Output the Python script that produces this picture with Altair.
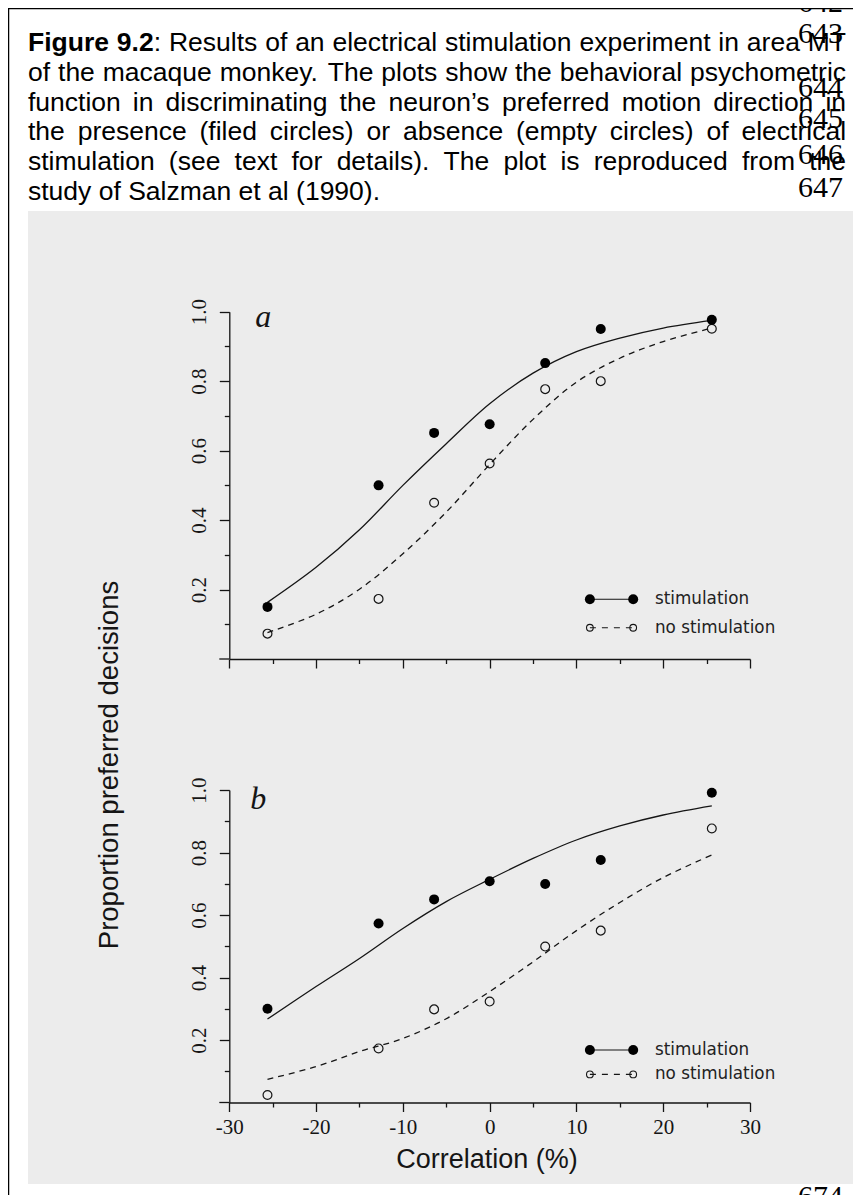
import altair as alt
import pandas as pd

# ---------------- data ----------------
coherence = [-25.6, -12.8, -6.4, 0.0, 6.4, 12.8, 25.6]
a_stim = [0.150, 0.500, 0.651, 0.676, 0.852, 0.950, 0.977]
a_nostim = [0.073, 0.173, 0.450, 0.563, 0.777, 0.800, 0.951]
b_stim = [0.300, 0.573, 0.650, 0.708, 0.699, 0.776, 0.991]
b_nostim = [0.024, 0.173, 0.298, 0.323, 0.499, 0.550, 0.877]

fit_x = [-25.6, -20.0, -15.0, -10.0, -5.0, 0.0, 5.0, 10.0, 15.0, 20.0, 25.6]
a_stim_fit = [0.163, 0.264, 0.372, 0.500, 0.620, 0.735, 0.823, 0.885, 0.924, 0.953, 0.975]
a_nostim_fit = [0.076, 0.129, 0.201, 0.303, 0.423, 0.560, 0.690, 0.797, 0.866, 0.914, 0.953]
b_stim_fit = [0.267, 0.371, 0.461, 0.557, 0.643, 0.714, 0.781, 0.840, 0.885, 0.920, 0.949]
b_nostim_fit = [0.074, 0.115, 0.163, 0.205, 0.268, 0.355, 0.450, 0.550, 0.640, 0.720, 0.792]

x_tick_values = [-30, -25, -20, -15, -10, -5, 0, 5, 10, 15, 20, 25, 30]
y_tick_values = [0.1, 0.2, 0.3, 0.4, 0.5, 0.6, 0.7, 0.8, 0.9, 1.0]

legend_labels = ["stimulation", "no stimulation"]
panel_names = ["a", "b"]
x_title = "Correlation (%)"
y_title = "Proportion preferred decisions"

caption_bold = "Figure 9.2"
caption_lines = [
    "Figure 9.2: Results of an electrical stimulation experiment in area MT",
    "of the macaque monkey. The plots show the behavioral psychometric",
    "function in discriminating the neuron\u2019s preferred motion direction in",
    "the presence (filed circles) or absence (empty circles) of electrical",
    "stimulation (see text for details). The plot is reproduced from the",
    "study of Salzman et al (1990).",
]
line_numbers = ["642", "643", "644", "645", "646", "647"]
bottom_line_number = "674"

# ---------------- layout (page pixels) ----------------
W, H = 845, 1187
M = 8


def P(v):
    return v - M


INK = "#151515"
PAPER_GRAY = "#ececec"
X_RNG = [P(229.3), P(750.0)]
YA_RNG = [P(659.0), P(311.7)]
YB_RNG = [P(1102.5), P(790.0)]

CAP_FS = 26.5
CAP_LEFT, CAP_RIGHT = 28.0, 846.0
CAP_BASE0, CAP_STEP = 51.0, 29.8
LN_BASELINES = [12, 43, 97, 128, 164, 197]

AR = {" ": 278, "!": 278, "(": 333, ")": 333, ".": 278, ",": 278, ":": 278,
      "\u2019": 222, "%": 889, "-": 333}
for ch in "0123456789":
    AR[ch] = 556
AR.update(dict(zip("abcdefghijklmnopqrstuvwxyz",
                   [556, 556, 500, 556, 556, 278, 556, 556, 222, 222, 500, 222, 833,
                    556, 556, 556, 556, 333, 500, 278, 556, 500, 722, 500, 500, 500])))
AR.update(dict(zip("ABCDEFGHIJKLMNOPQRSTUVWXYZ",
                   [667, 667, 722, 722, 667, 611, 778, 722, 278, 500, 667, 556, 833,
                    722, 778, 667, 778, 722, 667, 611, 722, 667, 944, 667, 667, 611])))
ARB = dict(AR)
ARB.update({"g": 611, "u": 611, "r": 389, "i": 278, "F": 611})


def text_w(s, bold=False):
    tab = ARB if bold else AR
    return sum(tab.get(c, 556) for c in s) / 1000.0 * CAP_FS


# caption word positions (justified like the document)
cap_rows = []
for li, line in enumerate(caption_lines):
    words = []
    pos = 0
    for w in line.split(" "):
        segs = []
        for k, ch in enumerate(w):
            b = (li == 0 and pos + k < len(caption_bold))
            if segs and segs[-1][1] == b:
                segs[-1][0] += ch
            else:
                segs.append([ch, b])
        pos += len(w) + 1
        words.append(segs)
    widths = [sum(text_w(s, b) for s, b in segs) for segs in words]
    if li < len(caption_lines) - 1 and len(words) > 1:
        gap = (CAP_RIGHT - CAP_LEFT - sum(widths)) / (len(words) - 1)
    else:
        gap = text_w(" ")
    x = CAP_LEFT
    for segs, wd in zip(words, widths):
        sx = x
        for s, b in segs:
            cap_rows.append({"x": P(sx), "row": li, "t": s, "bold": b})
            sx += text_w(s, b)
        x += wd + gap
cap_df = pd.DataFrame(cap_rows)

pix_x = alt.Scale(domain=[0, W], range=[0, W], nice=False, zero=False)
pix_y = alt.Scale(domain=[0, H], range=[0, H], nice=False, zero=False)
cap_y = alt.Scale(domain=[0, len(caption_lines) - 1],
                  range=[P(CAP_BASE0), P(CAP_BASE0 + CAP_STEP * (len(caption_lines) - 1))],
                  nice=False, zero=False)
one = pd.DataFrame({"k": [0]})

layers = []

# bottom line number (partly hidden by the scanned figure)
layers.append(alt.Chart(one).mark_text(
    text=bottom_line_number, font="Liberation Serif", fontSize=30, align="right",
    baseline="alphabetic", color="black").encode(x=alt.value(P(843)), y=alt.value(P(1206))))

# scanned figure background
layers.append(alt.Chart(one).mark_rect(color=PAPER_GRAY).encode(
    x=alt.value(P(28)), x2=alt.value(W), y=alt.value(P(211)), y2=alt.value(P(1184))))

# page frame
layers.append(alt.Chart(one).mark_rule(color="black", strokeWidth=2.5).encode(
    x=alt.value(0), x2=alt.value(W), y=alt.value(0)))
layers.append(alt.Chart(one).mark_rule(color="black", strokeWidth=2.5).encode(
    x=alt.value(0), y=alt.value(0), y2=alt.value(H)))

# caption
for bold in (False, True):
    layers.append(alt.Chart(cap_df).transform_filter(
        alt.datum.bold == bold).mark_text(
        font="Liberation Sans", fontSize=CAP_FS, fontWeight="bold" if bold else "normal",
        align="left", baseline="alphabetic", color="black").encode(
        x=alt.X("x:Q", scale=pix_x, axis=None),
        y=alt.Y("row:Q", scale=cap_y, axis=None),
        text="t:N"))

# line numbers
ln_df = pd.DataFrame({"n": line_numbers, "yy": [P(v) for v in LN_BASELINES]})
layers.append(alt.Chart(ln_df).mark_text(
    font="Liberation Serif", fontSize=30, align="right", baseline="alphabetic",
    color="black").encode(
    x=alt.value(P(843)),
    y=alt.Y("yy:Q", scale=pix_y, axis=None),
    text="n:N"))


def panel(stim, nostim, stim_fit, nostim_fit, y_rng, show_x_labels, name, name_xy,
          legend_y):
    xs = alt.Scale(domain=[-30, 30], range=X_RNG, nice=False, zero=False)
    ys = alt.Scale(domain=[0, 1], range=y_rng, nice=False, zero=False)
    out = []

    x_axis = alt.Axis(
        values=x_tick_values, orient="bottom", offset=y_rng[0] - H, title=None,
        grid=False, domainColor=INK, domainWidth=1.3, tickColor=INK, tickWidth=1.3,
        tickSize={"condition": {"test": "datum.value % 10 == 0", "value": 9}, "value": 4.5},
        labels=show_x_labels,
        labelExpr="datum.value % 10 == 0 ? '' + datum.value : ''",
        labelFont="Liberation Serif", labelFontSize=21, labelColor=INK,
        labelPadding=5, labelFlush=False, labelOverlap=False, labelBaseline="top",
        zindex=1)
    y_axis = alt.Axis(
        values=y_tick_values, orient="left", offset=-X_RNG[0], title=None, grid=False,
        domainColor=INK, domainWidth=1.3, tickColor=INK, tickWidth=1.3,
        tickSize={"condition": {"test": "round(datum.value * 10) % 2 == 0", "value": 10},
                  "value": 5},
        labelExpr="round(datum.value * 10) % 2 == 0 ? format(datum.value, '.1f') : ''",
        labelFont="Liberation Serif", labelFontSize=21, labelColor=INK,
        labelAngle=270, labelAlign="center", labelBaseline="alphabetic",
        labelPadding=14, labelFlush=False, labelOverlap=False, zindex=1)

    # x axis line runs slightly past the y axis
    out.append(alt.Chart(one).mark_rule(color=INK, strokeWidth=1.3).encode(
        x=alt.value(X_RNG[0] - 10), x2=alt.value(X_RNG[0]),
        y=alt.Y(datum=0, scale=ys, axis=None)))

    fit_df = pd.DataFrame({"c": fit_x, "s": stim_fit, "n": nostim_fit})
    out.append(alt.Chart(fit_df).mark_line(
        color=INK, strokeWidth=1.3, interpolate="catmull-rom").encode(
        x=alt.X("c:Q", scale=xs, axis=None), y=alt.Y("s:Q", scale=ys, axis=None)))
    out.append(alt.Chart(fit_df).mark_line(
        color=INK, strokeWidth=1.3, strokeDash=[6, 5], interpolate="catmull-rom").encode(
        x=alt.X("c:Q", scale=xs, axis=None), y=alt.Y("n:Q", scale=ys, axis=None)))

    pts = pd.DataFrame({"c": coherence, "s": stim, "n": nostim})
    out.append(alt.Chart(pts).mark_point(
        shape="circle", filled=False, size=78, color=INK, strokeWidth=1.2,
        opacity=1).encode(
        x=alt.X("c:Q", scale=xs, axis=None), y=alt.Y("n:Q", scale=ys, axis=None)))
    out.append(alt.Chart(pts).mark_point(
        shape="circle", filled=True, size=100, color="black", opacity=1).encode(
        x=alt.X("c:Q", scale=xs, axis=x_axis), y=alt.Y("s:Q", scale=ys, axis=y_axis)))

    # panel letter
    out.append(alt.Chart(one).mark_text(
        text=name, font="Liberation Serif", fontStyle="italic", fontSize=32,
        align="left", baseline="alphabetic", color=INK).encode(
        x=alt.X(datum=name_xy[0], scale=xs, axis=None),
        y=alt.Y(datum=name_xy[1], scale=ys, axis=None)))

    # legend
    lx0, lx1, ltx = 11.55, 16.54, 19.05
    leg = pd.DataFrame({"c": [lx0, lx1], "y1": [legend_y[0]] * 2, "y2": [legend_y[1]] * 2})
    out.append(alt.Chart(leg).mark_line(color=INK, strokeWidth=1.2).encode(
        x=alt.X("c:Q", scale=xs, axis=None), y=alt.Y("y1:Q", scale=ys, axis=None)))
    out.append(alt.Chart(leg).mark_point(
        shape="circle", filled=True, size=100, color="black", opacity=1).encode(
        x=alt.X("c:Q", scale=xs, axis=None), y=alt.Y("y1:Q", scale=ys, axis=None)))
    out.append(alt.Chart(leg).mark_line(
        color=INK, strokeWidth=1.2, strokeDash=[6, 6]).encode(
        x=alt.X("c:Q", scale=xs, axis=None), y=alt.Y("y2:Q", scale=ys, axis=None)))
    out.append(alt.Chart(leg).mark_point(
        shape="circle", filled=False, size=45, color=INK, strokeWidth=1.1,
        opacity=1).encode(
        x=alt.X("c:Q", scale=xs, axis=None), y=alt.Y("y2:Q", scale=ys, axis=None)))
    lt = pd.DataFrame({"t": legend_labels, "yy": legend_y, "c": [ltx, ltx]})
    out.append(alt.Chart(lt).mark_text(
        font="DejaVu Sans", fontSize=16.8, align="left", baseline="middle",
        color="#222222").encode(
        x=alt.X("c:Q", scale=xs, axis=None), y=alt.Y("yy:Q", scale=ys, axis=None),
        text="t:N"))
    return out


layers += panel(a_stim, a_nostim, a_stim_fit, a_nostim_fit, YA_RNG, False,
                panel_names[0], (-27.0, 0.957), [0.172, 0.090])
layers += panel(b_stim, b_nostim, b_stim_fit, b_nostim_fit, YB_RNG, True,
                panel_names[1], (-27.6, 0.939), [0.168, 0.090])

# axis titles
layers.append(alt.Chart(one).mark_text(
    text=y_title, font="Liberation Sans", fontSize=27.5, angle=270, align="center",
    baseline="middle", color=INK).encode(x=alt.value(P(110)), y=alt.value(P(765))))
layers.append(alt.Chart(one).mark_text(
    text=x_title, font="Liberation Sans", fontSize=27, align="center",
    baseline="alphabetic", color=INK).encode(x=alt.value(P(487)), y=alt.value(P(1168))))

chart = alt.layer(*layers).resolve_scale(
    x="independent", y="independent").properties(
    width=W, height=H, padding=0, autosize="none", background="white"
).configure_view(stroke=None)

chart.save("out.html", embed_options={"renderer": "svg", "actions": False})
